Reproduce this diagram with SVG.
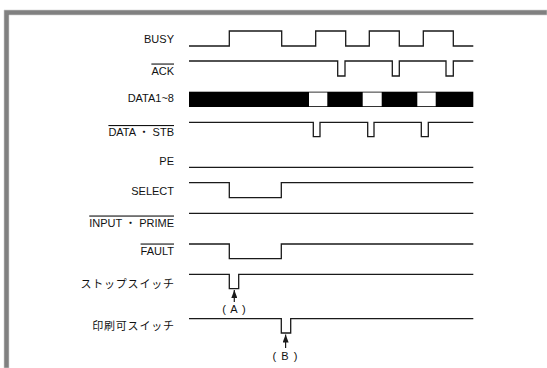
<svg xmlns="http://www.w3.org/2000/svg" width="547" height="368" viewBox="0 0 547 368">
<style>
.lbl{font-family:"Liberation Sans","Noto Sans CJK JP",sans-serif;font-size:11px;fill:#111;text-anchor:end}
.ol{text-decoration:overline}
.cj{font-family:"Noto Sans CJK JP","Liberation Sans",sans-serif;font-size:11px;letter-spacing:0.8px;fill:#111;text-anchor:end}
.sig{fill:none;stroke:#1a1a1a;stroke-width:1.3}
.note{font-family:"Liberation Sans",sans-serif;font-size:11px;letter-spacing:1px;fill:#111;text-anchor:middle}
</style>
<defs>
<marker id="ah" viewBox="0 0 8 6" refX="8" refY="3" markerWidth="8" markerHeight="6" markerUnits="userSpaceOnUse" orient="auto">
<path d="M0,0 L8,3 L0,6 Z" fill="#1a1a1a"/>
</marker>
</defs>
<rect width="547" height="368" fill="#fff"/>
<g id="frame">
<path d="M4,10 H547 V15 H9 V368 H4 Z" fill="#808080" stroke="#d0d0d0" stroke-width="0.6"/>
</g>
<g id="labels">
<text class="lbl" x="174" y="42.5">BUSY</text>
<text class="lbl ol" x="174" y="74.5">ACK</text>
<text class="lbl" x="174" y="102">DATA1~8</text>
<text class="lbl ol" x="174" y="136">DATA ・ STB</text>
<text class="lbl" x="174" y="165">PE</text>
<text class="lbl" x="174" y="195">SELECT</text>
<text class="lbl ol" x="174" y="226.5">INPUT ・ PRIME</text>
<text class="lbl ol" x="174" y="254.5">FAULT</text>
<text class="cj" x="174.8" y="288">ストップスイッチ</text>
<text class="cj" x="174.8" y="330">印刷可スイッチ</text>
</g>
<g id="signals">
<path id="busy" class="sig" d="M189,46 H229.3 V31 H281.7 V46 H315.7 V31 H345.7 V46 H369.3 V31 H399.3 V46 H423.3 V31 H453.3 V46 H473.3"/>
<path id="ack" class="sig" d="M189,61 H337.7 V76 H345 V61 H392.3 V76 H399.3 V61 H446 V76 H453.3 V61 H473.3"/>
<g id="data">
<rect x="189" y="91.7" width="284.3" height="15.3" fill="#000"/>
<rect x="309" y="92.5" width="18.3" height="13.7" fill="#fff"/>
<rect x="362.7" y="92.5" width="19" height="13.7" fill="#fff"/>
<rect x="417.3" y="92.5" width="18.4" height="13.7" fill="#fff"/>
</g>
<path id="stb" class="sig" d="M189,122.3 H313.3 V136.7 H320 V122.3 H367.7 V136.7 H374 V122.3 H421.3 V136.7 H428.3 V122.3 H473.3"/>
<path id="pe" class="sig" d="M189,167.3 H473.3"/>
<path id="select" class="sig" d="M189,182.7 H229.3 V197.7 H281.3 V182.7 H473.3"/>
<path id="iprime" class="sig" d="M189,213.3 H473.3"/>
<path id="fault" class="sig" d="M189,244 H229.3 V258.7 H281.3 V244 H473.3"/>
<path id="stopsw" class="sig" d="M189,274.3 H229.3 V288.7 H238.7 V274.3 H473.3"/>
<path id="printsw" class="sig" d="M189,318.7 H281.3 V333 H290.7 V318.7 H473.3"/>
</g>
<g id="connectors">
<line x1="234.3" y1="302" x2="234.3" y2="290" stroke="#1a1a1a" stroke-width="1.2" marker-end="url(#ah)"/>
<line x1="285.6" y1="348" x2="285.6" y2="334.5" stroke="#1a1a1a" stroke-width="1.2" marker-end="url(#ah)"/>
</g>
<g id="notes">
<text class="note" x="234.5" y="313">( A )</text>
<text class="note" x="285.5" y="360">( B )</text>
</g>
</svg>
